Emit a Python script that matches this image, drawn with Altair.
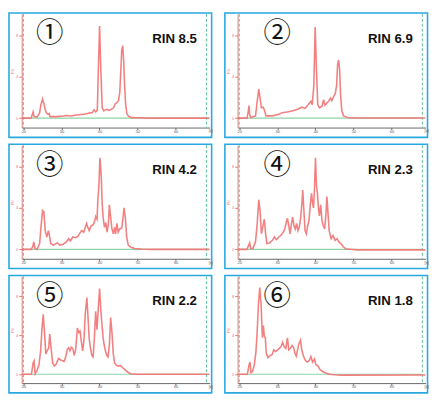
import altair as alt
import pandas as pd

# ---- data (time in s, fluorescence in axis-tick units) ----
trace_1 = [(19.6, 0), (22.05, 0), (22.31, 0.3), (22.57, 0.6), (22.82, 0.15), (23.6, 0.1), (24.28, 0.5),
           (24.62, 1.3), (25.05, 1.85), (25.39, 1.4), (25.74, 0.8), (26.16, 0.45), (26.59, 0.4), (26.76, 0.45),
           (27.02, 0.15), (28.73, 0.15), (30.44, 0.2), (31.3, 0.25), (32.58, 0.2), (33.87, 0.3), (35.15, 0.35),
           (36.44, 0.4), (37.29, 0.5), (38.15, 0.55), (38.58, 0.8), (39.0, 0.6), (39.43, 0.75), (39.69, 4.5),
           (40.03, 8.9), (40.37, 4.5), (40.72, 1.0), (41.14, 0.7), (41.57, 0.8), (42.0, 0.85), (42.43, 0.75),
           (42.86, 0.8), (43.28, 0.9), (43.71, 1.0), (44.14, 1.4), (44.57, 1.5), (45.0, 1.7), (45.34, 2.5),
           (45.59, 4.5), (45.85, 6.6), (46.11, 7.0), (46.36, 5.5), (46.62, 3.0), (46.88, 1.3), (47.22, 0.4),
           (47.73, 0.15), (48.42, 0.05), (50.13, 0.03), (52.7, 0), (68.9, 0)]

trace_2 = [(19.6, 0), (22.05, 0), (22.4, 0.69), (22.57, 1.22), (22.74, 0.37), (23.0, 0.06), (24.28, 0.22),
           (24.62, 1.31), (25.14, 2.81), (25.48, 1.94), (25.82, 1.0), (26.33, 1.06), (26.68, 0.69), (27.02, 0.22),
           (28.73, 0.22), (30.44, 0.37), (31.3, 0.53), (32.58, 0.59), (33.87, 0.69), (35.15, 0.84), (36.44, 1.06),
           (37.29, 0.94), (38.15, 1.31), (38.83, 1.62), (39.18, 1.31), (39.6, 3.19), (39.95, 8.81), (40.29, 4.75),
           (40.63, 1.31), (41.06, 1.0), (41.74, 1.16), (42.17, 1.78), (42.51, 1.25), (43.03, 1.47), (43.45, 1.62),
           (43.97, 1.94), (44.31, 1.69), (44.82, 2.09), (45.25, 2.41), (45.59, 3.19), (45.85, 5.22), (46.11, 5.62),
           (46.36, 4.75), (46.62, 2.25), (46.96, 0.69), (47.39, 0.22), (48.42, 0.06), (50.99, 0.02), (68.9, 0.02)]

trace_3 = [(19.6, 0), (22.05, 0), (22.48, 0.25), (22.74, 0.72), (23.08, 0.09), (23.6, 0), (24.28, 0.56),
           (24.62, 2.12), (25.05, 3.75), (25.39, 3.62), (25.74, 1.81), (26.16, 1.19), (26.59, 1.81), (26.85, 1.34),
           (27.19, 0.56), (27.88, 0.41), (28.9, 0.62), (29.59, 0.41), (30.44, 0.5), (31.3, 0.72), (31.9, 1.03),
           (32.33, 0.81), (33.01, 1.19), (33.7, 1.12), (34.3, 1.25), (34.72, 1.5), (35.32, 1.81), (35.84, 1.66),
           (36.26, 2.12), (36.61, 2.5), (36.95, 2.12), (37.29, 1.81), (37.8, 2.28), (38.32, 2.37), (38.75, 2.75),
           (39.0, 3.16), (39.35, 2.91), (39.6, 4.94), (39.86, 6.19), (40.12, 8.84), (40.46, 7.12), (40.72, 4.31),
           (40.97, 3.06), (41.31, 2.12), (41.66, 2.59), (42.0, 1.66), (42.34, 2.44), (42.6, 4.31), (42.94, 3.06),
           (43.28, 1.97), (43.63, 1.5), (43.97, 2.12), (44.23, 1.5), (44.57, 2.5), (44.91, 1.66), (45.34, 1.97),
           (45.85, 2.06), (46.19, 3.06), (46.45, 4.0), (46.79, 3.06), (47.14, 1.19), (47.56, 0.41), (48.25, 0.19),
           (49.28, 0.09), (50.99, 0.03), (53.56, 0), (68.9, 0)]

trace_4 = [(19.6, 0), (22.05, 0), (22.48, 0.41), (22.74, 0.62), (23.0, 0.09), (23.6, 0.09), (24.28, 0.72),
           (24.71, 2.44), (25.14, 4.78), (25.48, 3.69), (25.82, 1.5), (26.16, 2.12), (26.59, 2.91), (26.93, 1.5),
           (27.28, 0.56), (27.88, 0.62), (28.73, 0.87), (29.24, 1.19), (29.76, 0.94), (30.44, 1.19), (31.13, 1.44),
           (31.56, 1.66), (31.98, 1.97), (32.33, 2.59), (32.67, 3.0), (33.01, 2.28), (33.35, 1.5), (33.7, 2.44),
           (34.04, 3.12), (34.38, 2.28), (34.72, 1.97), (35.07, 2.5), (35.41, 1.81), (35.75, 2.12), (36.09, 2.91),
           (36.44, 4.31), (36.69, 5.72), (36.95, 4.0), (37.29, 1.81), (37.63, 1.5), (37.98, 2.28), (38.32, 2.75),
           (38.66, 4.31), (39.0, 5.41), (39.26, 4.47), (39.52, 4.0), (39.77, 5.87), (40.03, 8.84), (40.29, 6.19),
           (40.54, 5.41), (40.8, 4.0), (41.06, 3.22), (41.4, 4.31), (41.74, 2.75), (42.08, 2.28), (42.43, 1.97),
           (42.77, 3.37), (43.03, 5.09), (43.28, 3.69), (43.63, 1.81), (44.14, 1.03), (44.65, 1.34), (45.17, 0.87),
           (45.68, 1.03), (46.19, 0.72), (46.71, 0.56), (47.31, 0.25), (47.99, 0.06), (49.28, 0), (50.99, -0.05),
           (68.9, -0.05)]

trace_5 = [(19.6, 0), (22.14, 0), (22.57, 1.16), (22.82, 1.37), (23.08, 0.06), (23.6, 0.37), (24.11, 1.0),
           (24.54, 2.41), (24.88, 4.59), (25.22, 6.16), (25.56, 4.28), (25.91, 2.09), (26.25, 2.41), (26.68, 2.72),
           (26.93, 4.12), (27.28, 2.72), (27.7, 1.16), (28.13, 0.84), (28.56, 1.0), (29.24, 1.62), (29.84, 1.47),
           (30.7, 1.31), (31.13, 1.78), (31.56, 2.56), (31.9, 2.72), (32.24, 2.41), (32.58, 2.78), (33.01, 2.66),
           (33.35, 1.94), (33.7, 2.41), (33.95, 3.5), (34.21, 4.75), (34.55, 4.28), (34.89, 4.44), (35.24, 3.34),
           (35.58, 2.41), (35.92, 3.5), (36.26, 6.16), (36.69, 7.87), (36.95, 6.16), (37.29, 3.66), (37.63, 2.72),
           (37.98, 1.94), (38.32, 1.78), (38.66, 3.66), (39.0, 6.47), (39.35, 4.59), (39.69, 6.78), (40.03, 8.81),
           (40.37, 6.47), (40.63, 5.22), (40.97, 3.66), (41.23, 3.03), (41.57, 2.41), (41.91, 1.94), (42.26, 1.78),
           (42.6, 3.03), (42.94, 5.84), (43.28, 4.28), (43.63, 2.09), (43.97, 1.16), (44.48, 0.91), (45.0, 0.84),
           (45.51, 0.91), (46.02, 0.69), (46.54, 0.53), (47.22, 0.28), (48.08, 0.06), (49.53, 0), (68.9, 0)]

trace_6 = [(19.6, 0), (22.14, 0), (22.57, 0.94), (22.82, 1.25), (23.08, 0.16), (23.51, 0.31), (23.94, 0.94),
           (24.37, 2.19), (24.71, 4.37), (25.05, 7.19), (25.39, 8.91), (25.74, 7.19), (26.08, 3.75), (26.33, 5.0),
           (26.59, 3.91), (26.85, 3.75), (27.1, 2.19), (27.53, 1.72), (27.96, 1.87), (28.65, 2.03), (29.07, 2.5),
           (29.5, 2.34), (30.1, 2.5), (30.53, 2.66), (30.96, 2.81), (31.38, 3.28), (31.81, 2.81), (32.24, 2.66),
           (32.67, 3.75), (33.01, 2.5), (33.44, 2.66), (33.87, 2.97), (34.3, 2.75), (34.64, 2.19), (34.98, 1.87),
           (35.32, 2.5), (35.66, 3.12), (36.09, 3.5), (36.44, 2.5), (36.86, 1.87), (37.38, 1.41), (37.89, 1.25),
           (38.4, 1.41), (38.83, 1.81), (39.26, 1.25), (39.77, 1.56), (40.12, 1.0), (40.63, 0.87), (41.23, 0.47),
           (41.83, 0.31), (42.51, 0.16), (43.8, 0), (45.08, -0.06), (46.79, -0.09), (68.9, -0.08)]

traces = [trace_1, trace_2, trace_3, trace_4, trace_5, trace_6]
rin_labels = ["RIN 8.5", "RIN 6.9", "RIN 4.2", "RIN 2.3", "RIN 2.2", "RIN 1.8"]
panel_numbers = ["\u2460", "\u2461", "\u2462", "\u2463", "\u2464", "\u2465"]
x_ticks = [20, 25, 30, 35, 40, 45, 50, 55, 60, 65]
y_ticks = [0, 1, 2, 3, 4, 5, 6, 7, 8, 9, 10]
marker_times = [20.0, 68.1]

# ---- styling ----
W = 192
ROW_H = [116, 116, 109]
X_DOMAIN = [19.57, 68.95]
Y_DOMAIN = [-0.91, 10.06]
RED = "#f27272"
BLUE = "#2aa8e0"
GREEN_BASE = "#8fd3a6"
GREEN_DASH = "#5cbf98"
GRAY = "#666666"


def panel(i, col, H):
    xs = alt.Scale(domain=X_DOMAIN, nice=False, zero=False)
    ys = alt.Scale(domain=Y_DOMAIN, nice=False, zero=False)
    df = pd.DataFrame(traces[i], columns=["t", "fu"])
    info = pd.DataFrame({"label": [rin_labels[i]], "num": [panel_numbers[i]],
                         "t0": [marker_times[0]], "t1": [marker_times[1]], "zero": [0]})
    marks = pd.DataFrame({"t": marker_times})

    frame = alt.Chart(info).mark_rect(fillOpacity=0, stroke=BLUE, strokeWidth=1.6).encode(
        x=alt.value(-13), x2=alt.value(W + 2), y=alt.value(-1), y2=alt.value(H + 10))

    line = alt.Chart(df).mark_line(color=RED, strokeWidth=1.6, opacity=0.9).encode(
        x=alt.X("t:Q", scale=xs, title=None,
                axis=alt.Axis(values=x_ticks, grid=False, domainColor=GRAY, tickColor=GRAY, tickSize=2,
                              labelFontSize=4, labelColor="#555", labelPadding=0, labelFlush=False,
                              labelOverlap=False)),
        y=alt.Y("fu:Q", scale=ys,
                axis=alt.Axis(values=y_ticks, grid=False, domainColor=RED, tickColor=RED, tickSize=3,
                              labelFontSize=4, labelColor=RED, labelPadding=1, labelOverlap=False,
                              title="FU", titleFontSize=4, titleColor=RED, titlePadding=1,
                              titleFontWeight="normal")))

    baseline = alt.Chart(info).mark_rule(color=GREEN_BASE, strokeWidth=1.2).encode(
        x=alt.X("t0:Q", scale=xs, title=None), x2="t1:Q",
        y=alt.Y("zero:Q", scale=ys, title="FU"))

    dashed = alt.Chart(marks).mark_rule(color=GREEN_DASH, strokeDash=[3, 2], strokeWidth=1).encode(
        x=alt.X("t:Q", scale=xs, title=None), y=alt.value(0), y2=alt.value(H))

    num = alt.Chart(info).mark_text(font="Noto Sans CJK JP", fontSize=28, color="#111").encode(
        x=alt.value(28.5 if col == 0 else 40.5), y=alt.value(21), text="num:N")

    rin = alt.Chart(info).mark_text(font="Liberation Sans", fontWeight="bold", fontSize=13.5,
                                    align="right", color="#111").encode(
        x=alt.value(179), y=alt.value(25.7), text="label:N")

    unit = alt.Chart(info).mark_text(fontSize=4, color="#555", align="left").encode(
        x=alt.value(W - 1), y=alt.value(H + 4), text=alt.value("[s]"))

    return alt.layer(frame, baseline, dashed, line, num, rin, unit).properties(width=W, height=H)


rows = [alt.hconcat(panel(2 * r, 0, ROW_H[r]), panel(2 * r + 1, 1, ROW_H[r]), spacing=10.5) for r in range(3)]
chart = alt.vconcat(*rows, spacing=5, background="white",
                    padding={"left": 0, "top": 0, "right": 0, "bottom": -4}).configure_view(strokeWidth=0)

chart.save("out.html", embed_options={"renderer": "svg", "actions": False})
